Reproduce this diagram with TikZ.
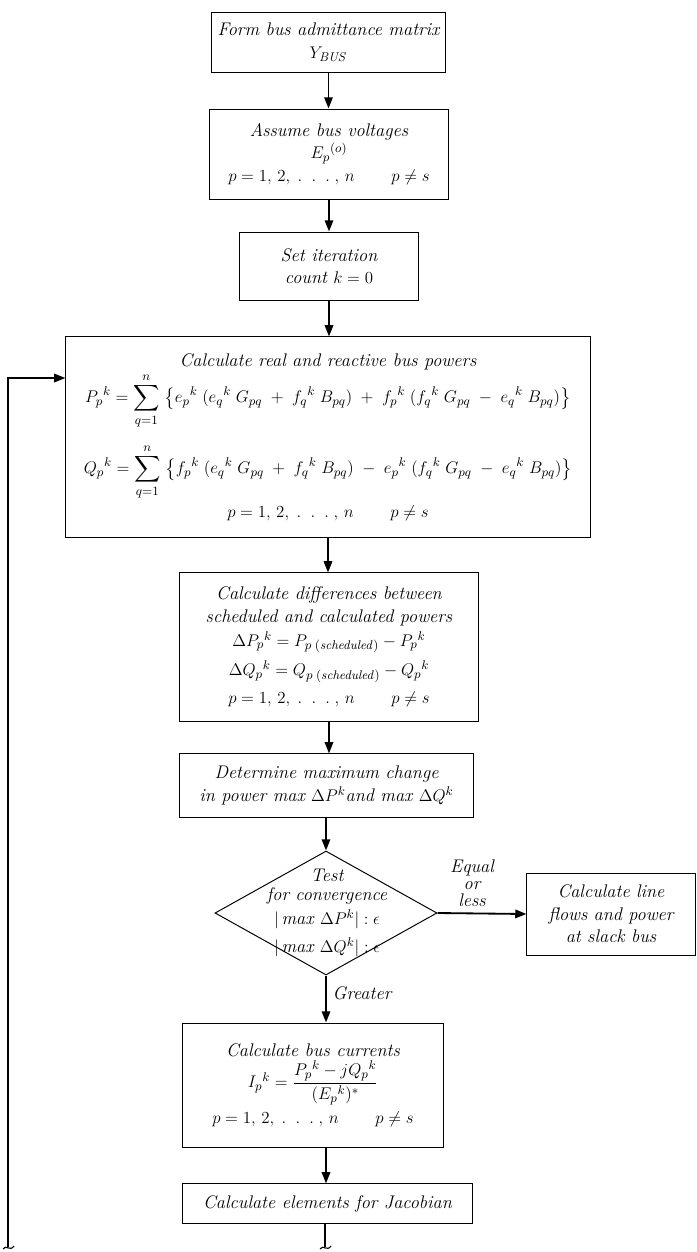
\documentclass[tikz,border=0pt]{standalone}
\usepackage{amsmath,amssymb}
\usetikzlibrary{arrows.meta,shapes.geometric}

\begin{document}
\begin{tikzpicture}[x=0.025cm, y=-0.025cm,
		blk/.style={rectangle, draw, line width=0.7pt, inner sep=2pt,
				align=center, font=\fontsize{13}{16}\selectfont\itshape},
		dec/.style={diamond, draw, line width=0.7pt, inner sep=0pt,
				minimum width=5.55cm, minimum height=3.1cm},
		lbl/.style={font=\fontsize{13}{15}\selectfont\itshape, align=center, inner sep=1pt},
		arr/.style={-{Triangle[length=8pt,width=6pt]}, line width=1.3pt},
		lnk/.style={line width=1.3pt},
		]

		\useasboundingbox (0,0) rectangle (697,1252);

		% ---- Setup ----
		\node[blk, minimum width=5.83cm, minimum height=1.5cm] (ybus) at (328.5,42)
		{Form bus admittance matrix\\ $Y_{\mathit{BUS}}$};
		\node[blk, minimum width=5.95cm, minimum height=2.25cm] (init) at (329,154)
		{Assume bus voltages\\ $E_p{}^{(o)}$\\
			$p = 1,\,2,\;.\;\;.\;\;.\;,\,n \qquad p \neq s$};
		\node[blk, minimum width=4.45cm, minimum height=1.7cm] (count) at (329,266)
		{Set iteration\\ count $k = 0$};

		% ---- Iteration ----
		\node[blk, minimum width=13.1cm, minimum height=5cm] (powers) at (328,437)
		{Calculate real and reactive bus powers\\[1pt]
			$\displaystyle P_p{}^k = \sum_{q=1}^{n}\; \bigl\{ e_p{}^k\;(e_q{}^k\;G_{pq} \;+\; f_q{}^k\;B_{pq}) \;+\; f_p{}^k\;(f_q{}^k\;G_{pq} \;-\; e_q{}^k\;B_{pq}) \bigr\}$\\[10pt]
			$\displaystyle Q_p{}^k = \sum_{q=1}^{n}\; \bigl\{ f_p{}^k\;(e_q{}^k\;G_{pq} \;+\; f_q{}^k\;B_{pq}) \;-\; e_p{}^k\;(f_q{}^k\;G_{pq} \;-\; e_q{}^k\;B_{pq}) \bigr\}$\\[3pt]
			$p = 1,\,2,\;.\;\;.\;\;.\;,\,n \qquad p \neq s$};
		\node[blk, minimum width=7.45cm, minimum height=3.7cm] (diff) at (329,647)
		{Calculate differences between\\ scheduled and calculated powers\\[1pt]
			$\Delta P_p{}^k = P_{p\;(\mathit{scheduled})} - P_p{}^k$\\[5pt]
			$\Delta Q_p{}^k = Q_{p\;(\mathit{scheduled})} - Q_p{}^k$\\[4pt]
			$p = 1,\,2,\;.\;\;.\;\;.\;,\,n \qquad p \neq s$};
		\node[blk, minimum width=7.33cm, minimum height=1.58cm] (maxch) at (326.5,785.5)
		{Determine maximum change\\ in power max $\Delta P^k$and max $\Delta Q^k$};

		% ---- Convergence test ----
		\node[dec] (test) at (326,913) {};
		\node[lbl] (testtxt) at (327,913)
		{Test\\[-1pt] for convergence\\[2pt]
			$|\,\textit{max}\ \Delta P^k| : \epsilon$\\[5pt]
			$|\,\textit{max}\ \Delta Q^k| : \epsilon$};
		\node[blk, minimum width=4.2cm, minimum height=2.05cm] (flows) at (611,914)
		{Calculate line\\ flows and power\\ at slack bus};
		\node[lbl] (eq) at (472,883) {Equal\\[-3pt] or\\[-3pt] less};
		\node[lbl, anchor=west] (gt) at (331,993) {Greater};

		% ---- Currents and Jacobian ----
		\node[blk, minimum width=6.5cm, minimum height=3.1cm] (curr) at (313,1085)
		{Calculate bus currents\\[2pt]
			$I_p{}^k = \dfrac{P_p{}^k - jQ_p{}^k}{(E_p{}^k)^*}$\\[4pt]
			$p = 1,\,2,\;.\;\;.\;\;.\;,\,n \qquad p \neq s$};
		\node[blk, minimum width=7.23cm, minimum height=0.98cm] (jac) at (327.5,1203.5)
		{Calculate elements for Jacobian};

		\coordinate (retbot) at (8,1247);
		\coordinate (retcorner) at (8,378);
		\coordinate (jacend) at (325,1247);

		% ---- Arrows ----
		\draw[arr] (ybus.south) -- (ybus.south |- init.north);
		\draw[arr] (init.south) -- (init.south |- count.north);
		\draw[arr] (count.south) -- (count.south |- powers.north);
		\draw[arr] (powers.south) -- (powers.south |- diff.north);
		\draw[arr] (diff.south) -- (diff.south |- maxch.north);
		\draw[arr] (maxch.south -| test.north) -- (test.north);
		\draw[arr] (test.east) -- (flows.west);
		\draw[arr] (test.south) -- (test.south |- curr.north);
		\draw[arr] (test.south |- curr.south) -- (test.south |- jac.north);
		\draw[lnk] (jac.south -| jacend) -- (jacend);

		% ---- Return loop ----
		\draw[arr] (retbot) -- (retcorner) -- (retcorner -| powers.west);

		% ---- Break marks ----
		\draw[line width=0.8pt] (3,1249) .. controls (6,1244) and (10,1252) .. (14,1246);
		\draw[line width=0.8pt] (320,1249) .. controls (323,1244) and (327,1252) .. (331,1246);

	\end{tikzpicture}
\end{document}
